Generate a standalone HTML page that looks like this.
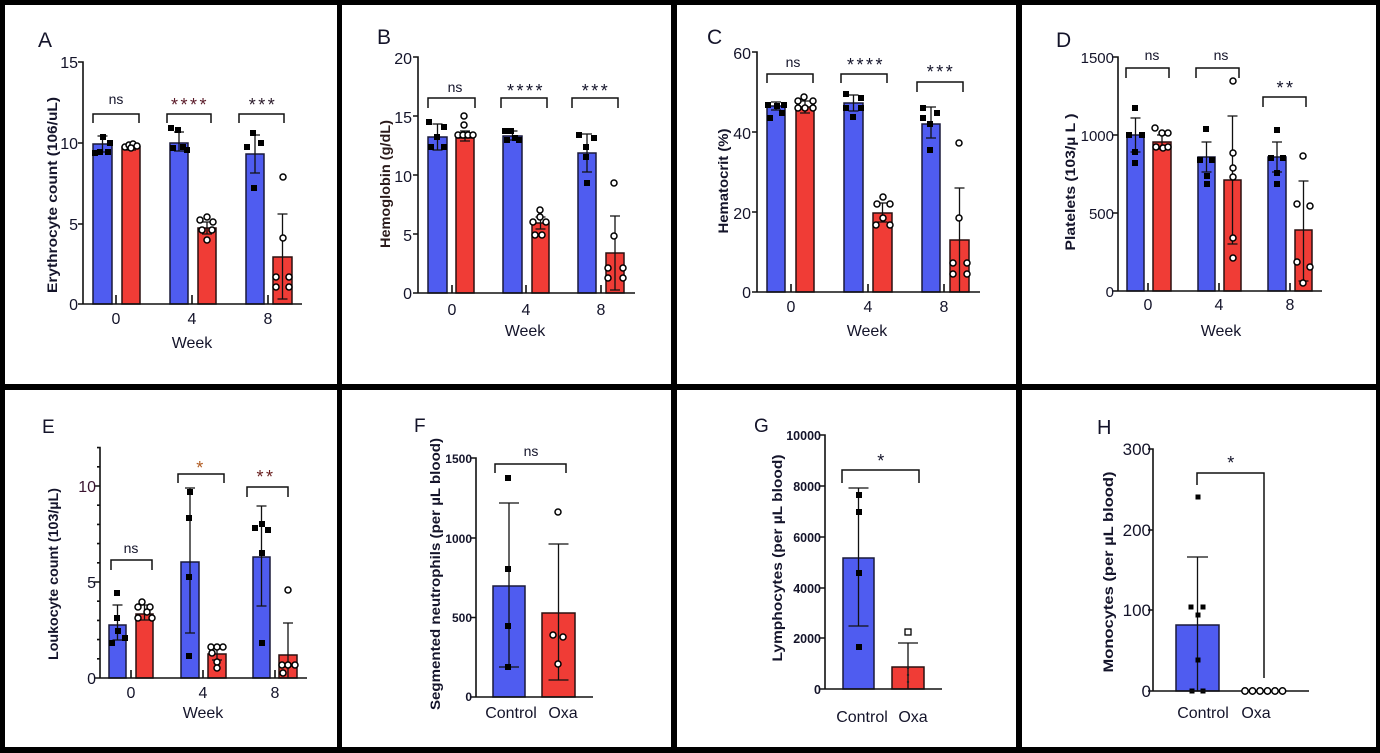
<!DOCTYPE html>
<html>
<head>
<meta charset="utf-8">
<style>
html,body{margin:0;padding:0;background:#fff;}
svg{display:block;}
text{font-family:"Liberation Sans",Arial,sans-serif;fill:#14142a;}
.bb{fill:#4f5cf0;stroke:#1a1a3a;stroke-width:1.5}
.rb{fill:#f03c36;stroke:#2a1010;stroke-width:1.5}
.ax{stroke:#111;stroke-width:1.6;fill:none}
.eb{stroke:#111;stroke-width:1.3;fill:none}
.br{stroke:#111;stroke-width:1.5;fill:none}
.sq{fill:#000}
.ci{fill:#fff;stroke:#000;stroke-width:1.5}
.tl{font-size:16px;text-anchor:end}
.cl{font-size:16px;text-anchor:middle}
.yl{font-size:14px;font-weight:bold;text-anchor:middle}
.ns{font-size:14px;text-anchor:middle}
.st{font-size:18px;text-anchor:middle;letter-spacing:2.5px}
.pl{font-size:21px}
</style>
</head>
<body>
<svg width="1380" height="753" viewBox="0 0 1380 753" xmlns="http://www.w3.org/2000/svg">
<rect x="0" y="0" width="1380" height="753" fill="#fff"/>

<!-- ================= Panel A ================= -->
<text class="pl" x="38" y="47">A</text>
<text class="yl" transform="translate(57,195) rotate(-90)" textLength="196" lengthAdjust="spacingAndGlyphs">Erythrocyte count (106/uL)</text>
<rect class="bb" x="93" y="144" width="19" height="160"/>
<rect class="rb" x="122" y="147" width="18" height="157"/>
<rect class="bb" x="170" y="143" width="18" height="161"/>
<rect class="rb" x="198" y="228" width="18" height="76"/>
<rect class="bb" x="246" y="154" width="18" height="150"/>
<rect class="rb" x="273" y="257" width="19" height="47"/>
<path class="eb" d="M97.5,136H107.5M102.5,136V152M97.5,152H107.5
M126,144H136M131,144V150M126,150H136
M174,132H184M179,132V151M174,151H184
M202,222H212M207,222V234M202,234H212
M250,135H260M255,135V173M250,173H260
M277.5,214H287.5M282.5,214V299M277.5,299H287.5"/>
<g class="sq">
<rect x="92" y="150" width="6" height="6"/><rect x="100" y="134" width="6" height="6"/><rect x="107" y="140" width="6" height="6"/><rect x="97" y="149" width="6" height="6"/><rect x="105" y="149" width="6" height="6"/>
<rect x="168" y="125" width="6" height="6"/><rect x="175" y="127" width="6" height="6"/><rect x="180" y="144" width="6" height="6"/><rect x="170" y="145" width="6" height="6"/><rect x="184" y="147" width="6" height="6"/>
<rect x="244" y="144" width="6" height="6"/><rect x="250" y="130" width="6" height="6"/><rect x="258" y="140" width="6" height="6"/><rect x="251" y="185" width="6" height="6"/>
</g>
<g class="ci">
<circle cx="125" cy="147" r="3"/><circle cx="129" cy="145" r="3"/><circle cx="133" cy="144" r="3"/><circle cx="137" cy="146" r="3"/><circle cx="131" cy="148" r="3"/>
<circle cx="200" cy="220" r="3"/><circle cx="207" cy="217" r="3"/><circle cx="213" cy="222" r="3"/><circle cx="202" cy="230" r="3"/><circle cx="212" cy="230" r="3"/><circle cx="207" cy="240" r="3"/>
<circle cx="283" cy="177" r="3"/><circle cx="283" cy="238" r="3"/><circle cx="276" cy="277" r="3"/><circle cx="276" cy="287" r="3"/><circle cx="289" cy="277" r="3"/><circle cx="289" cy="287" r="3"/>
</g>
<path class="ax" d="M78,62H83V304H302M78,143H83M78,224H83M78,304H83M116,295V304M192,295V304M268,295V304"/>
<text class="tl" x="78" y="68">15</text><text class="tl" x="78" y="149">10</text><text class="tl" x="78" y="230">5</text><text class="tl" x="78" y="310">0</text>
<text class="cl" x="116" y="324">0</text><text class="cl" x="192" y="324">4</text><text class="cl" x="268" y="324">8</text>
<text class="cl" x="192" y="348">Week</text>
<path class="br" d="M93,123V114H139V123M167,123V114H211V123M239,123V114H284V123"/>
<text class="ns" x="116" y="104">ns</text>
<text class="st" x="190" y="111" style="fill:#5a1a28">****</text>
<text class="st" x="263" y="111" style="fill:#2a1a2a">***</text>

<!-- ================= Panel B ================= -->
<text class="pl" x="377" y="44">B</text>
<text class="yl" transform="translate(390,184) rotate(-90)" textLength="128" lengthAdjust="spacingAndGlyphs" style="fill:#2a1a1a">Hemoglobin (g/dL)</text>
<rect class="bb" x="428" y="137" width="19" height="156"/>
<rect class="rb" x="456" y="138" width="18" height="155"/>
<rect class="bb" x="503" y="136" width="19" height="157"/>
<rect class="rb" x="532" y="223" width="17" height="70"/>
<rect class="bb" x="578" y="153" width="18" height="140"/>
<rect class="rb" x="606" y="253" width="18" height="40"/>
<path class="eb" d="M432.5,124H442.5M437.5,124V150M432.5,150H442.5
M460,131H470M465,131V141M460,141H470
M507.5,131H517.5M512.5,131V140M507.5,140H517.5
M535.5,217H545.5M540.5,217V229M535.5,229H545.5
M582,134H592M587,134V172M582,172H592
M610,216H620M615,216V290M610,290H620"/>
<g class="sq">
<rect x="426" y="119" width="6" height="6"/><rect x="441" y="124" width="6" height="6"/><rect x="434" y="134" width="6" height="6"/><rect x="428" y="144" width="6" height="6"/><rect x="441" y="144" width="6" height="6"/>
<rect x="502" y="128" width="6" height="6"/><rect x="508" y="128" width="6" height="6"/><rect x="504" y="137" width="6" height="6"/><rect x="516" y="137" width="6" height="6"/><rect x="512" y="135" width="6" height="6"/>
<rect x="576" y="132" width="6" height="6"/><rect x="591" y="135" width="6" height="6"/><rect x="583" y="144" width="6" height="6"/><rect x="583" y="154" width="6" height="6"/><rect x="584" y="180" width="6" height="6"/>
</g>
<g class="ci">
<circle cx="464" cy="116" r="3"/><circle cx="464" cy="125" r="3"/><circle cx="458" cy="135" r="3"/><circle cx="463" cy="135" r="3"/><circle cx="468" cy="135" r="3"/><circle cx="473" cy="135" r="3"/>
<circle cx="540" cy="210" r="3"/><circle cx="540" cy="217" r="3"/><circle cx="533" cy="222" r="3"/><circle cx="546" cy="222" r="3"/><circle cx="535" cy="235" r="3"/><circle cx="542" cy="235" r="3"/>
<circle cx="614" cy="183" r="3"/><circle cx="614" cy="236" r="3"/><circle cx="608" cy="268" r="3"/><circle cx="608" cy="278" r="3"/><circle cx="623" cy="268" r="3"/><circle cx="623" cy="278" r="3"/>
</g>
<path class="ax" d="M413,57H418V293H635M413,116H418M413,175H418M413,234H418M413,293H418M452,285V293M526,285V293M601,285V293"/>
<text class="tl" x="412" y="64">20</text><text class="tl" x="412" y="123">15</text><text class="tl" x="412" y="182">10</text><text class="tl" x="412" y="241">5</text><text class="tl" x="412" y="299">0</text>
<text class="cl" x="452" y="315">0</text><text class="cl" x="526" y="315">4</text><text class="cl" x="601" y="315">8</text>
<text class="cl" x="525" y="336">Week</text>
<path class="br" d="M428,108V98H475V108M501,108V98H547V108M572,108V98H618V108"/>
<text class="ns" x="455" y="92">ns</text>
<text class="st" x="526" y="97">****</text>
<text class="st" x="596" y="97">***</text>

<!-- ================= Panel C ================= -->
<text class="pl" x="707" y="44">C</text>
<text class="yl" transform="translate(728,181) rotate(-90)" textLength="105" lengthAdjust="spacingAndGlyphs">Hematocrit (%)</text>
<rect class="bb" x="767" y="106" width="18" height="186"/>
<rect class="rb" x="796" y="107" width="18" height="185"/>
<rect class="bb" x="844" y="103" width="19" height="189"/>
<rect class="rb" x="873" y="213" width="19" height="79"/>
<rect class="bb" x="922" y="124" width="18" height="168"/>
<rect class="rb" x="950" y="240" width="19" height="52"/>
<path class="eb" d="M771,102H781M776,102V110M771,110H781
M800,101H810M805,101V113M800,113H810
M848.5,95H858.5M853.5,95V111M848.5,111H858.5
M877.5,203H887.5M882.5,203V222M877.5,222H887.5
M926,107H936M931,107V138M926,138H936
M954.5,188H964.5M959.5,188V292"/>
<g class="sq">
<rect x="765" y="102" width="6" height="6"/><rect x="774" y="103" width="6" height="6"/><rect x="781" y="102" width="6" height="6"/><rect x="767" y="115" width="6" height="6"/><rect x="779" y="110" width="6" height="6"/>
<rect x="843" y="91" width="6" height="6"/><rect x="858" y="95" width="6" height="6"/><rect x="843" y="105" width="6" height="6"/><rect x="858" y="105" width="6" height="6"/><rect x="850" y="114" width="6" height="6"/>
<rect x="920" y="105" width="6" height="6"/><rect x="934" y="110" width="6" height="6"/><rect x="920" y="115" width="6" height="6"/><rect x="927" y="121" width="6" height="6"/><rect x="927" y="147" width="6" height="6"/>
</g>
<g class="ci">
<circle cx="798" cy="101" r="3"/><circle cx="804" cy="97" r="3"/><circle cx="813" cy="101" r="3"/><circle cx="798" cy="108" r="3"/><circle cx="813" cy="108" r="3"/><circle cx="805" cy="108" r="3"/>
<circle cx="883" cy="197" r="3"/><circle cx="877" cy="204" r="3"/><circle cx="890" cy="204" r="3"/><circle cx="876" cy="225" r="3"/><circle cx="890" cy="225" r="3"/><circle cx="883" cy="218" r="3"/>
<circle cx="959" cy="143" r="3"/><circle cx="959" cy="218" r="3"/><circle cx="953" cy="263" r="3"/><circle cx="953" cy="274" r="3"/><circle cx="967" cy="263" r="3"/><circle cx="967" cy="274" r="3"/>
</g>
<path class="ax" d="M752,52H757V292H980M752,132H757M752,212H757M752,292H757M791,284V292M868,284V292M944,284V292"/>
<text class="tl" x="751" y="59">60</text><text class="tl" x="751" y="139">40</text><text class="tl" x="751" y="219">20</text><text class="tl" x="751" y="298">0</text>
<text class="cl" x="791" y="312">0</text><text class="cl" x="868" y="312">4</text><text class="cl" x="944" y="312">8</text>
<text class="cl" x="867" y="336">Week</text>
<path class="br" d="M767,83V74H813V83M841,83V74H887V83M917,92V82H963V92"/>
<text class="ns" x="793" y="67">ns</text>
<text class="st" x="866" y="71">****</text>
<text class="st" x="941" y="78">***</text>

<!-- ================= Panel D ================= -->
<text class="pl" x="1056" y="47">D</text>
<text class="yl" transform="translate(1075,182) rotate(-90)" textLength="137" lengthAdjust="spacingAndGlyphs">Platelets (103/µ L )</text>
<rect class="bb" x="1127" y="135" width="17" height="156"/>
<rect class="rb" x="1153" y="142" width="18" height="149"/>
<rect class="bb" x="1198" y="157" width="17" height="134"/>
<rect class="rb" x="1224" y="180" width="17" height="111"/>
<rect class="bb" x="1268" y="157" width="18" height="134"/>
<rect class="rb" x="1295" y="230" width="17" height="61"/>
<path class="eb" d="M1130.5,118H1140.5M1135.5,118V152M1130.5,152H1140.5
M1157,135H1167M1162,135V149M1157,149H1167
M1201.5,142H1211.5M1206.5,142V172M1201.5,172H1211.5
M1227.5,116H1237.5M1232.5,116V244M1227.5,244H1237.5
M1272,142H1282M1277,142V172M1272,172H1282
M1298.5,181H1308.5M1303.5,181V281M1298.5,281H1308.5"/>
<g class="sq">
<rect x="1132" y="105" width="6" height="6"/><rect x="1126" y="132" width="6" height="6"/><rect x="1139" y="132" width="6" height="6"/><rect x="1132" y="149" width="6" height="6"/><rect x="1132" y="160" width="6" height="6"/>
<rect x="1203" y="126" width="6" height="6"/><rect x="1197" y="157" width="6" height="6"/><rect x="1209" y="157" width="6" height="6"/><rect x="1204" y="173" width="6" height="6"/><rect x="1204" y="181" width="6" height="6"/>
<rect x="1274" y="127" width="6" height="6"/><rect x="1268" y="155" width="6" height="6"/><rect x="1280" y="155" width="6" height="6"/><rect x="1274" y="170" width="6" height="6"/><rect x="1274" y="181" width="6" height="6"/>
</g>
<g class="ci">
<circle cx="1155" cy="128" r="3"/><circle cx="1162" cy="133" r="3"/><circle cx="1168" cy="133" r="3"/><circle cx="1156" cy="147" r="3"/><circle cx="1163" cy="148" r="3"/><circle cx="1168" cy="147" r="3"/>
<circle cx="1233" cy="81" r="3"/><circle cx="1233" cy="153" r="3"/><circle cx="1233" cy="168" r="3"/><circle cx="1233" cy="177" r="3"/><circle cx="1233" cy="238" r="3"/><circle cx="1233" cy="258" r="3"/>
<circle cx="1303" cy="156" r="3"/><circle cx="1297" cy="204" r="3"/><circle cx="1310" cy="206" r="3"/><circle cx="1297" cy="262" r="3"/><circle cx="1310" cy="267" r="3"/><circle cx="1303" cy="283" r="3"/>
</g>
<path class="ax" d="M1113,57H1118V291H1322M1113,135H1118M1113,213H1118M1113,291H1118M1148,283V291M1219,283V291M1290,283V291"/>
<text class="tl" x="1114" y="63" style="font-size:15px">1500</text><text class="tl" x="1114" y="141" style="font-size:15px">1000</text><text class="tl" x="1114" y="219" style="font-size:15px">500</text><text class="tl" x="1114" y="297" style="font-size:15px">0</text>
<text class="cl" x="1148" y="310">0</text><text class="cl" x="1219" y="310">4</text><text class="cl" x="1290" y="310">8</text>
<text class="cl" x="1221" y="336">Week</text>
<path class="br" d="M1126,78V68H1169V78M1196,78V68H1239V78M1263,107V97H1306V107"/>
<text class="ns" x="1152" y="60">ns</text>
<text class="ns" x="1221" y="60">ns</text>
<text class="st" x="1286" y="94">**</text>

<!-- ================= Panel E ================= -->
<text class="pl" x="42" y="433" style="font-size:19px">E</text>
<text class="yl" transform="translate(58,574) rotate(-90)" textLength="172" lengthAdjust="spacingAndGlyphs">Loukocyte count (103/µL)</text>
<rect class="bb" x="109" y="625" width="17" height="53"/>
<rect class="rb" x="136" y="614" width="17" height="64"/>
<rect class="bb" x="181" y="562" width="18" height="116"/>
<rect class="rb" x="208" y="654" width="18" height="24"/>
<rect class="bb" x="253" y="557" width="17" height="121"/>
<rect class="rb" x="279" y="655" width="18" height="23"/>
<path class="eb" d="M112.5,605H122.5M117.5,605V640M112.5,640H122.5
M139.5,605H149.5M144.5,605V620M139.5,620H149.5
M185,488H195M190,488V633M185,633H195
M212,647H222M217,647V660M212,660H222
M256.5,506H266.5M261.5,506V606M256.5,606H266.5
M283,623H293M288,623V678"/>
<g class="sq">
<rect x="114" y="590" width="6" height="6"/><rect x="114" y="615" width="6" height="6"/><rect x="115" y="628" width="6" height="6"/><rect x="109" y="640" width="6" height="6"/><rect x="122" y="635" width="6" height="6"/>
<rect x="187" y="489" width="6" height="6"/><rect x="186" y="515" width="6" height="6"/><rect x="186" y="574" width="6" height="6"/><rect x="186" y="653" width="6" height="6"/>
<rect x="252" y="525" width="6" height="6"/><rect x="259" y="521" width="6" height="6"/><rect x="265" y="527" width="6" height="6"/><rect x="259" y="550" width="6" height="6"/><rect x="259" y="640" width="6" height="6"/>
</g>
<g class="ci">
<circle cx="142" cy="602" r="3"/><circle cx="138" cy="607" r="3"/><circle cx="150" cy="607" r="3"/><circle cx="147" cy="612" r="3"/><circle cx="138" cy="618" r="3"/><circle cx="152" cy="618" r="3"/>
<circle cx="211" cy="647" r="3"/><circle cx="217" cy="647" r="3"/><circle cx="223" cy="647" r="3"/><circle cx="212" cy="653" r="3"/><circle cx="217" cy="662" r="3"/><circle cx="217" cy="668" r="3"/>
<circle cx="288" cy="590" r="3"/><circle cx="282" cy="665" r="3"/><circle cx="288" cy="665" r="3"/><circle cx="295" cy="665" r="3"/><circle cx="283" cy="673" r="3"/>
</g>
<path class="ax" d="M97,447.6H100V678H307M94,486H100M94,582H100M94,678H100
M97,466.8H100M97,505.2H100M97,524.4H100M97,543.6H100M97,562.8H100M97,601.2H100M97,620.4H100M97,639.6H100M97,658.8H100
M131,670V678M203,670V678M275,670V678"/>
<text class="tl" x="96" y="492" style="fill:#3a1530">10</text><text class="tl" x="96" y="588">5</text><text class="tl" x="96" y="684">0</text>
<text class="cl" x="131" y="698">0</text><text class="cl" x="203" y="698">4</text><text class="cl" x="275" y="698">8</text>
<text class="cl" x="203" y="718">Week</text>
<path class="br" d="M111,570V560H152V570M178,483V474H224V483M247,497V487H288V497"/>
<text class="ns" x="131" y="553">ns</text>
<text class="st" x="201" y="474" style="fill:#b05a20">*</text>
<text class="st" x="266" y="483" style="fill:#6a2020">**</text>

<!-- ================= Panel F ================= -->
<text class="pl" x="414" y="432" style="font-size:19px">F</text>
<text class="yl" transform="translate(440,574) rotate(-90)" textLength="272" lengthAdjust="spacingAndGlyphs">Segmented neutrophils (per µL blood)</text>
<rect class="bb" x="493" y="586" width="32" height="111"/>
<rect class="rb" x="542" y="613" width="33" height="84"/>
<path class="eb" d="M499,503H519M509,503V667M499,667H519
M548.5,544H568.5M558.5,544V680M548.5,680H568.5"/>
<g class="sq">
<rect x="505" y="475" width="6" height="6"/><rect x="505" y="566" width="6" height="6"/><rect x="505" y="623" width="6" height="6"/><rect x="505" y="664" width="6" height="6"/>
</g>
<g class="ci">
<circle cx="558" cy="512" r="3"/><circle cx="553" cy="635" r="3"/><circle cx="563" cy="637" r="3"/><circle cx="558" cy="664" r="3"/>
</g>
<path class="ax" d="M471,458H476V697H593M471,538H476M471,617.5H476M471,697H476"/>
<g style="font-size:12px;font-weight:bold;text-anchor:end">
<text x="472" y="463">1500</text><text x="472" y="543">1000</text><text x="472" y="622">500</text><text x="472" y="701">0</text>
</g>
<text class="cl" x="511" y="718">Control</text><text class="cl" x="563" y="718">Oxa</text>
<path class="br" d="M495,473V464H566V473"/>
<text class="ns" x="531" y="456">ns</text>

<!-- ================= Panel G ================= -->
<text class="pl" x="754" y="432" style="font-size:19px">G</text>
<text class="yl" transform="translate(782,558) rotate(-90)" textLength="207" lengthAdjust="spacingAndGlyphs">Lymphocytes (per µL blood)</text>
<rect class="bb" x="843" y="558" width="31" height="131"/>
<rect class="rb" x="892" y="667" width="32" height="22"/>
<path class="eb" d="M848.5,488H868.5M858.5,488V626M848.5,626H868.5
M898,643H918M908,643V689"/>
<g class="sq">
<rect x="856" y="492" width="6" height="6"/><rect x="856" y="509" width="6" height="6"/><rect x="856" y="570" width="6" height="6"/><rect x="856" y="644" width="6" height="6"/>
</g>
<rect x="905" y="629" width="6" height="6" fill="#fff" stroke="#000" stroke-width="1.3"/>
<g fill="#222"><circle cx="908" cy="668" r="1.2"/><circle cx="908" cy="675" r="1.2"/><circle cx="908" cy="682" r="1.2"/></g>
<path class="ax" d="M820,435H825V689H942M820,486H825M820,537H825M820,588H825M820,638H825M820,689H825"/>
<g style="font-size:12.5px;font-weight:bold;text-anchor:end">
<text x="821" y="440">10000</text><text x="821" y="491">8000</text><text x="821" y="542">6000</text><text x="821" y="593">4000</text><text x="821" y="643">2000</text><text x="821" y="694">0</text>
</g>
<text class="cl" x="862" y="722">Control</text><text class="cl" x="913" y="722">Oxa</text>
<path class="br" d="M842,483V470H919V483"/>
<text class="st" x="882" y="467">*</text>

<!-- ================= Panel H ================= -->
<text class="pl" x="1097" y="434" style="font-size:20px">H</text>
<text class="yl" transform="translate(1113,572) rotate(-90)" textLength="201" lengthAdjust="spacingAndGlyphs">Monocytes (per µL blood)</text>
<rect class="bb" x="1176" y="625" width="43" height="66"/>
<path class="eb" d="M1187,557H1208M1197.5,557V691"/>
<g class="sq">
<rect x="1195.5" y="494.5" width="5" height="5"/><rect x="1188.5" y="604.5" width="5" height="5"/><rect x="1200.5" y="604.5" width="5" height="5"/><rect x="1195.5" y="612.5" width="5" height="5"/><rect x="1195.5" y="657.5" width="5" height="5"/><rect x="1189.5" y="688.5" width="5" height="5"/><rect x="1200.5" y="688.5" width="5" height="5"/>
</g>
<path class="ax" d="M1148,449H1153V691H1309M1148,530H1153M1148,610H1153M1148,691H1153"/>
<g class="ci">
<circle cx="1245" cy="691" r="3.2"/><circle cx="1252.5" cy="691" r="3.2"/><circle cx="1260" cy="691" r="3.2"/><circle cx="1267.5" cy="691" r="3.2"/><circle cx="1275" cy="691" r="3.2"/><circle cx="1282.5" cy="691" r="3.2"/>
</g>
<g style="font-size:17px;text-anchor:end">
<text x="1151" y="455">300</text><text x="1151" y="536">200</text><text x="1151" y="616">100</text><text x="1151" y="697">0</text>
</g>
<text class="cl" x="1203" y="718">Control</text><text class="cl" x="1256" y="718">Oxa</text>
<path class="br" d="M1197,485V473H1264V678"/>
<text class="st" x="1232" y="469">*</text>

<!-- ================= Borders ================= -->
<g fill="#000">
<rect x="0" y="0" width="1380" height="5"/>
<rect x="0" y="384" width="1380" height="6"/>
<rect x="0" y="747" width="1380" height="6"/>
<rect x="0" y="0" width="5" height="753"/>
<rect x="337" y="0" width="5" height="753"/>
<rect x="671" y="0" width="6" height="753"/>
<rect x="1016" y="0" width="6" height="753"/>
<rect x="1376" y="0" width="4" height="753"/>
</g>
</svg>
</body>
</html>
